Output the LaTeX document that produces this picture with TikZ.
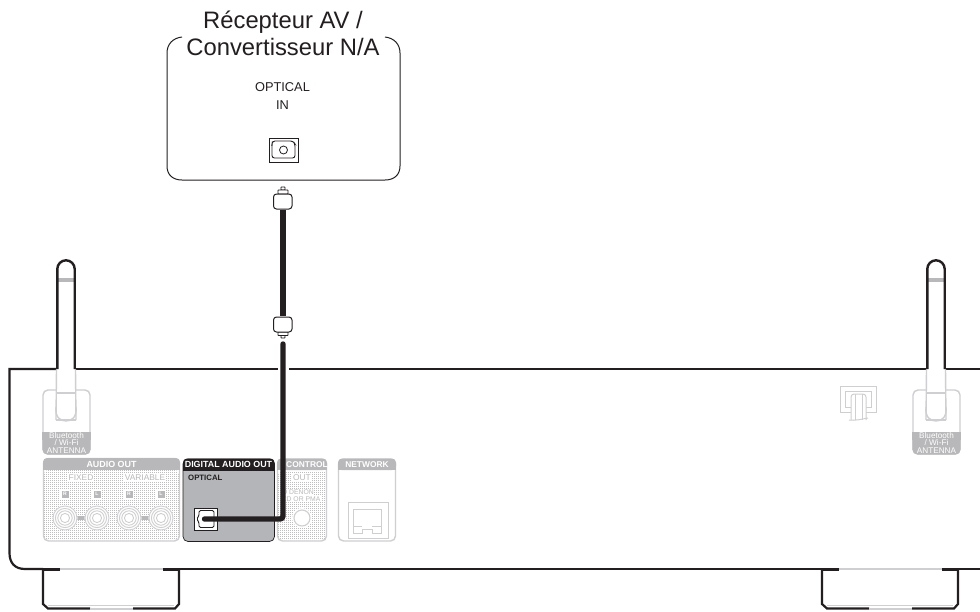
\documentclass[tikz,border=0pt]{standalone}
\usepackage{fontspec}
\setmainfont{Liberation Sans}
\definecolor{ink}{HTML}{231F20}
\definecolor{pale}{HTML}{CFCFD1}
\definecolor{mid}{HTML}{B8B8BA}
\definecolor{panelgray}{HTML}{B4B5B8}
\definecolor{dotc}{HTML}{BEBEC0}
\tikzset{
  x=1pt,y=-1pt,
  body/.style={ink,line width=2.2pt,line cap=butt},
  ghost/.style={pale,line width=1.4pt},
  thin ghost/.style={pale,line width=1pt},
  cablepath/.style={ink,line width=5.4pt,line cap=round,rounded corners=3pt},
  plug/.style={ink,line width=1pt,fill=white,rounded corners=3pt},
  head/.style={white,font=\bfseries\fontsize{8.9}{9}\selectfont,inner sep=0pt},
  ghosttext/.style={mid,font=\fontsize{8.4}{9}\selectfont,inner sep=1pt},
  smalltext/.style={mid,font=\fontsize{6.8}{7.5}\selectfont,inner sep=.5pt,align=center},
  antlabel/.style={white,font=\fontsize{8.2}{7.6}\selectfont,inner sep=0pt,align=center},
  boxtitle/.style={ink,font=\fontsize{23.8}{27}\selectfont,inner sep=0pt,align=center},
  boxtext/.style={ink,font=\fontsize{12.8}{18}\selectfont,inner sep=0pt,align=center},
}
\newcommand{\dotfield}[4]{%
  \begin{scope}
    \clip[rounded corners=4pt] (#1,#2) rectangle (#3,#4);
    \foreach \yy in {#2,...,#4}{
      \pgfmathparse{int(mod(\yy,2))}
      \ifnum\pgfmathresult=0
        \draw[dotc,line width=.9pt,dash pattern=on 1pt off 1pt] (#1,\yy) -- (#3,\yy);
      \fi
    }
  \end{scope}}
\newcommand{\rca}[2]{%
  \fill[white] (#1,#2) circle (12.6);
  \foreach \rr in {12,9.6,7.2,4.6}{\draw[pale,line width=.9pt] (#1,#2) circle (\rr);}}
\newcommand{\antenna}[1]{%
  \begin{scope}[shift={(#1,0)}]
    \draw[ghost,fill=white,rounded corners=5pt] (-19,390) rectangle (28,454);
    \fill[mid,rounded corners=5pt] (-19.6,432) rectangle (28.6,454.6);
    \fill[mid] (-19.6,432) rectangle (28.6,440);
    \node[antlabel] at (4.5,443) {Bluetooth\\/ Wi-Fi\\ANTENNA};
    \fill[white] (-5.5,369) rectangle (13.5,421);
    \draw[ghost] (-5.5,369) -- (-6,420) (13.5,369) -- (14,420);
    \draw[ghost] (-6,393) -- (14,393);
    \draw[ghost] (-6,407) .. controls (-7,417) and (-2,421) .. (4,421) .. controls (10,421) and (15,417) .. (14,407);
    \draw[ghost] (-6,420) -- (14,420);
    \fill[mid] (-4,278) rectangle (12,282);
    \draw[body,line width=2.4pt] (-4.7,369) -- (-4.7,269) arc[start angle=180,end angle=360,radius=8.7] -- (12.7,369);
  \end{scope}}
\newcommand{\foot}[1]{%
  \begin{scope}[shift={(#1,0)}]
    \draw[body] (0,569) -- (0,604) -- (5,608.5) -- (47,608.5);
    \draw[body] (90,608.5) -- (132,608.5) -- (136,604) -- (136,569);
    \draw[ghost] (47,609) -- (90,609);
    \draw[thin ghost] (5,605) -- (131,605);
    \draw[ghost,line width=2pt] (17,569) -- (120,569);
    \draw[body,line width=3pt] (-1,569.3) -- (17,569.3) (120,569.3) -- (137,569.3);
  \end{scope}}
\begin{document}
\begin{tikzpicture}
\useasboundingbox (0,0) rectangle (980,611);
\fill[white] (0,0) rectangle (980,611);

% upper device
\draw[ink,line width=1pt] (182,37) .. controls (173,38) and (167,44) .. (167,53) -- (167,166) .. controls (167,175) and (173,180) .. (182,180) -- (385,180) .. controls (394,180) and (400,175) .. (400,166) -- (400,53) .. controls (400,44) and (394,38) .. (385,37);
\node[boxtitle] (title) at (283,33.5) {Récepteur AV /\\Convertisseur N/A};
\node[boxtext] (optin) at (282.5,96) {OPTICAL\\IN};
\node[draw=ink,line width=.9pt,minimum width=29pt,minimum height=24pt,inner sep=0pt] (injack) at (283.5,150) {};
\draw[ink,line width=.9pt,rounded corners=2.5pt] (272.5,141) -- (293,141) -- (295,144) -- (295,158) -- (272,158) -- (272,144) -- cycle;
\draw[ink,line width=.8pt] (283.5,150) circle (4);

% main body outline
\draw[body] (57,369) -- (9.5,369) -- (9.5,553) .. controls (9.5,563) and (15,569) .. (25,569) -- (43,569);
\draw[body] (74,369) -- (278,369);
\draw[body] (289,369) -- (927,369);
\draw[body] (944,369) -- (980,369);
\draw[body] (179,569) -- (822,569);
\draw[body] (958,569) -- (980,569);

\antenna{62}
\antenna{932}
\foot{43}
\foot{822}

% hook symbol
\draw[thin ghost] (840.5,386.5) rectangle (876.5,412);
\draw[thin ghost] (845,391) rectangle (871,407);
\draw[thin ghost,fill=white,rounded corners=3pt] (851,420) -- (851,394) -- (866,394) -- (866,420);
\draw[thin ghost] (855,394) -- (855,420) (862,394) -- (862,420);
\draw[thin ghost] (849,420) .. controls (855,421) and (862,419) .. (868,418);

% audio out panel
\draw[ghost,rounded corners=5pt] (43.5,458.5) rectangle (179.5,541);
\dotfield{44}{470}{179}{540}
\fill[mid,rounded corners=4pt] (43,458) rectangle (180,469.5);
\fill[mid] (43,464) rectangle (180,469.5);
\node[head] (aout) at (111.5,464.5) {AUDIO OUT};
\node[ghosttext,fill=white] (fixed) at (81,478) {FIXED};
\node[ghosttext,fill=white] (variable) at (145,478) {VARIABLE};
\foreach \xx/\tt in {65/R,97/L,129/R,161/L}{
  \fill[white] (\xx-5,489) rectangle (\xx+5,499);
  \fill[mid] (\xx-3.5,490.5) rectangle (\xx+3.5,497.5);
  \node[white,font=\bfseries\fontsize{5}{5}\selectfont,inner sep=0pt] at (\xx,494) {\tt};
}
\fill[mid] (76,516) rectangle (86,520);
\fill[mid] (140,516) rectangle (150,520);
\rca{65}{518}\rca{97}{518}\rca{129}{518}\rca{161}{518}

% control panel
\draw[ghost,rounded corners=5pt] (277.5,459) rectangle (326.5,541);
\dotfield{278}{471}{326}{540}
\fill[mid,rounded corners=4pt] (277,458.5) rectangle (327,470);
\fill[mid] (277,465) rectangle (327,470);
\node[head,font=\bfseries\fontsize{8.4}{9}\selectfont] (ctrl) at (307,464.5) {CONTROL};
\node[ghosttext,fill=white] (cout) at (302,478) {OUT};
\node[smalltext,fill=white,anchor=east] (denon) at (314.5,492.5) {O DENON};
\node[smalltext,fill=white,anchor=east] (cdpma) at (321,499) {CD OR PMA};
\fill[white] (302,518) circle (10);
\draw[pale,line width=1.1pt] (302,518) circle (8);

% network panel
\draw[ghost,fill=white,rounded corners=5pt] (338.5,459) rectangle (395.5,541);
\fill[mid,rounded corners=4pt] (338,458.5) rectangle (396,470);
\fill[mid] (338,465) rectangle (396,470);
\node[head,font=\bfseries\fontsize{8.4}{9}\selectfont] (net) at (367,464.5) {NETWORK};
\draw[thin ghost] (348.5,502) rectangle (388,538);
\draw[thin ghost] (353,509.5) -- (381,509.5) -- (381,533) -- (372,533) -- (372,529) -- (362,529) -- (362,533) -- (353,533) -- cycle;
\draw[thin ghost] (353,526) -- (362,526) (372,526) -- (381,526);

% digital audio out panel
\fill[panelgray,rounded corners=5pt] (183,459) rectangle (274.5,541.5);
\draw[ink,line width=.7pt,rounded corners=5pt] (183,459) rectangle (274.5,541.5);
\fill[ink,rounded corners=4pt] (183,458.5) rectangle (274.5,470.5);
\fill[ink] (183,465) rectangle (274.5,470.5);
\node[head] (dout) at (228.5,464.5) {DIGITAL AUDIO OUT};
\node[anchor=west,ink,font=\bfseries\fontsize{7.8}{8}\selectfont,inner sep=0pt] (optical) at (188,478) {OPTICAL};
\node[draw=ink,line width=1pt,fill=white,minimum width=23pt,minimum height=22pt,inner sep=0pt] (outjack) at (205.5,519) {};
\draw[ink,line width=.9pt,fill=white,rounded corners=1.5pt] (199,510.5) -- (214,510.5) -- (214,527.5) -- (199,527.5) -- (199,522) -- (196.5,519) -- (199,516) -- cycle;

% cable
\coordinate (capin) at (283,210);
\coordinate (capout) at (283,316);
\coordinate (cabstart) at (204.5,519);
\coordinate (cabtop) at (283,344);
\draw[white,line width=11pt] (283,347) -- (283,392);
\draw[cablepath] (cabstart) -- (283,519) -- (cabtop);
\draw[ink,line width=5.4pt] (capin) -- (capout);

% plugs
\draw[plug,line width=.9pt,rounded corners=.5pt] (281,190) rectangle (285,187);
\draw[plug,line width=.9pt,rounded corners=.5pt] (278,194) rectangle (288,190);
\draw[plug] (273.5,194) -- (292,194) -- (292,209) -- (273.5,209) -- cycle;
\draw[plug,line width=.9pt,rounded corners=.5pt] (281,335.5) rectangle (285,338);
\draw[plug,line width=.9pt,rounded corners=.5pt] (278,332) rectangle (288,335.5);
\draw[plug] (273.5,332) -- (292,332) -- (292,317) -- (273.5,317) -- cycle;
\end{tikzpicture}
\end{document}
